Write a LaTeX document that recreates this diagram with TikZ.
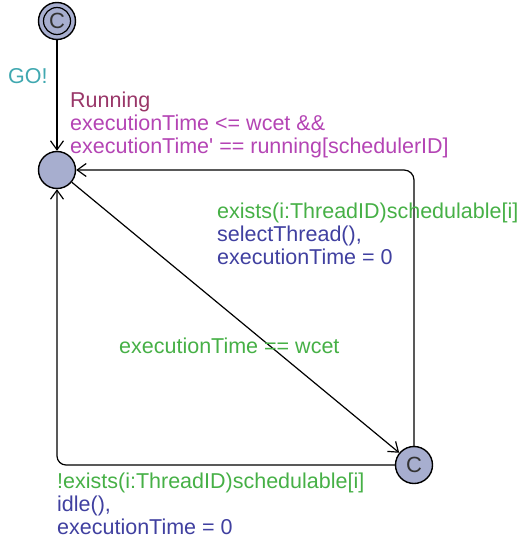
\documentclass[tikz,border=0pt]{standalone}
\usepackage{fontspec}
\setmainfont{Liberation Sans}[Ligatures=TeXOff]
\usetikzlibrary{arrows.meta}
\definecolor{locfill}{RGB}{167,174,207}
\definecolor{synccol}{RGB}{64,168,176}
\definecolor{namecol}{RGB}{153,54,104}
\definecolor{invcol}{RGB}{180,68,180}
\definecolor{guardcol}{RGB}{70,176,70}
\definecolor{updcol}{RGB}{64,64,160}
\begin{document}
\begin{tikzpicture}[x=1pt,y=-1pt,
  font=\fontsize{21.5}{23}\selectfont,
  loc/.style={circle,draw=black,line width=1.4pt,fill=locfill,minimum size=37pt,inner sep=0pt},
  edge/.style={draw=black,line width=1.2pt,-{Straight Barb[length=9pt,width=13pt,line width=1.2pt]}},
  lbl/.style={anchor=base west,inner sep=0pt,align=left},
  ctext/.style={font=\fontsize{22}{22}\selectfont\color{black!80}}]
\useasboundingbox (0,0) rectangle (519,546);

% locations
\node[loc] (init) at (57,21) {};
\node[circle,draw=black,line width=1.2pt,minimum size=27pt,inner sep=0pt,ctext] at (init) {C};
\node[loc] (run) at (57,170) {};
\node[loc,ctext] (cc) at (414,465) {C};

% transitions
\draw[edge] (init) -- (run);
\draw[edge] (run) -- (cc);
\draw[edge,rounded corners=10pt] (cc) |- (run);
\draw[edge,rounded corners=9pt] (cc) -| (run);

% labels
\node[lbl,text=synccol] (sync) at (8,83) {GO!};
\node[lbl,text=namecol] (name) at (70,107) {Running};
\node[lbl,text=invcol] (inv1) at (70,130) {executionTime <= wcet \&\&};
\node[lbl,text=invcol] (inv2) at (70,153) {executionTime' == running[schedulerID]};

\node[lbl,text=guardcol] (g1) at (217,218) {exists(i:ThreadID)schedulable[i]};
\node[lbl,text=updcol] (u1a) at (217,241) {selectThread(),};
\node[lbl,text=updcol] (u1b) at (217,264) {executionTime = 0};

\node[lbl,text=guardcol] (g2) at (119,353) {executionTime == wcet};

\node[lbl,text=guardcol] (g3) at (57,488) {!exists(i:ThreadID)schedulable[i]};
\node[lbl,text=updcol] (u3a) at (57,511) {idle(),};
\node[lbl,text=updcol] (u3b) at (57,534) {executionTime = 0};
\end{tikzpicture}
\end{document}
